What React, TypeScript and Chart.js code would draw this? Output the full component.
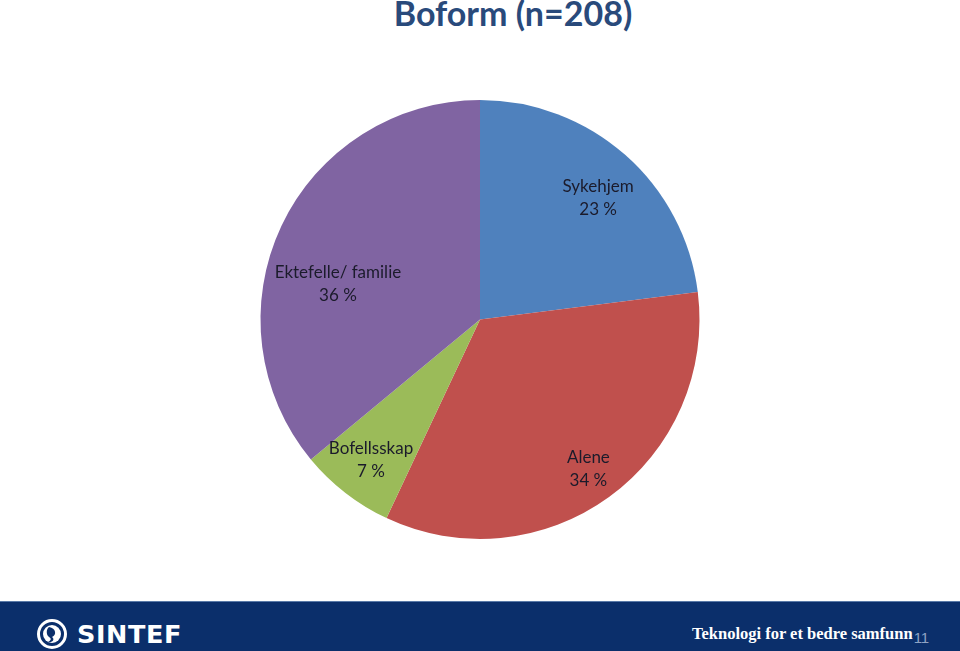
import React, { useEffect, useRef } from "react";
import { Chart, registerables } from "chart.js";

Chart.register(...registerables);

const categories = ["Sykehjem", "Alene", "Bofellsskap", "Ektefelle/ familie"];
const percentages = [23, 34, 7, 36];
const sliceColors = ["#4F81BD", "#C0504D", "#9BBB59", "#8064A2"];
// label placement: [radius fraction, angle offset in degrees]
const labelPlacement: [number, number][] = [
  [0.772, 2.8],
  [0.84, 0],
  [0.81, 0],
  [0.667, -11.2],
];

const labelPlugin = {
  id: "sliceLabels",
  afterDatasetsDraw(chart: any) {
    const ctx = chart.ctx;
    const meta = chart.getDatasetMeta(0);
    ctx.save();
    ctx.font = "17px Lato, 'Open Sans', sans-serif";
    ctx.fillStyle = "#1b1b2b";
    ctx.textAlign = "center";
    ctx.textBaseline = "middle";
    meta.data.forEach((arc: any, i: number) => {
      const { x, y, startAngle, endAngle, outerRadius } = arc.getProps(
        ["x", "y", "startAngle", "endAngle", "outerRadius"],
        true
      );
      const [rf, off] = labelPlacement[i];
      const mid = (startAngle + endAngle) / 2 + (off * Math.PI) / 180;
      const r = outerRadius * rf;
      const cx = x + Math.cos(mid) * r;
      const cy = y + Math.sin(mid) * r;
      ctx.fillText(categories[i], cx, cy - 11.5);
      ctx.fillText(percentages[i] + " %", cx, cy + 11.5);
    });
    ctx.restore();
  },
};

function PieChart() {
  const ref = useRef<HTMLCanvasElement | null>(null);
  useEffect(() => {
    if (!ref.current) return;
    const chart = new Chart(ref.current, {
      type: "pie",
      data: {
        labels: categories,
        datasets: [
          {
            data: percentages,
            backgroundColor: sliceColors,
            borderWidth: 0,
          },
        ],
      },
      options: {
        responsive: false,
        animation: false,
        layout: { padding: { top: 100, bottom: 62, left: 0, right: 0 } },
        plugins: {
          legend: { display: false },
          tooltip: { enabled: false },
          title: { display: false },
        },
      },
      plugins: [labelPlugin],
    });
    return () => chart.destroy();
  }, []);
  return (
    <canvas
      ref={ref}
      width={960}
      height={601}
      style={{ position: "absolute", left: 0, top: 0, width: 960, height: 601 }}
    />
  );
}

function Logo() {
  return (
    <svg width={32} height={32} viewBox="0 0 32 32" style={{ position: "absolute", left: 36, top: 618 }}>
      <circle cx={16} cy={16} r={13.5} fill="none" stroke="#fff" strokeWidth={3} />
      <circle cx={16} cy={16} r={9} fill="#fff" />
      <path d="M13 9 C20 10, 21 17, 16 19 C19 21, 17 25, 12 24 C16 22, 15 20, 13 19 C10 17, 10 11, 13 9 Z" fill="#0B2F6B" />
    </svg>
  );
}

export default function App() {
  return (
    <div
      style={{
        position: "absolute",
        left: 0,
        top: 0,
        width: 960,
        height: 651,
        overflow: "hidden",
        background: "#fff",
      }}
    >
      <div
        style={{
          position: "absolute",
          left: 313,
          width: 400,
          top: -7,
          textAlign: "center",
          fontFamily: "Lato, 'Open Sans', sans-serif",
          fontWeight: 700,
          fontSize: 34,
          color: "#294A7B",
          lineHeight: "40px",
        }}
      >
        Boform (n=208)
      </div>
      <PieChart />
      <div
        style={{
          position: "absolute",
          left: 0,
          top: 601,
          width: 960,
          height: 50,
          background: "#0B2F6B",
          borderTop: "1px solid #5a7aa8",
          boxSizing: "border-box",
        }}
      />
      <Logo />
      <div
        style={{
          position: "absolute",
          left: 77,
          top: 619,
          fontFamily: "'DejaVu Sans', sans-serif",
          fontWeight: 700,
          fontSize: 25.5,
          lineHeight: "30px",
          color: "#fff",
          letterSpacing: 0.6,
        }}
      >
        SINTEF
      </div>
      <div
        style={{
          position: "absolute",
          left: 692,
          top: 621,
          fontFamily: "'Liberation Serif', serif",
          fontWeight: 700,
          fontSize: 16.5,
          lineHeight: "26px",
          color: "#fff",
          whiteSpace: "nowrap",
        }}
      >
        Teknologi for et bedre samfunn
        <span style={{ fontFamily: "'Liberation Sans', sans-serif", fontWeight: 400, fontSize: 15, color: "#8fa3c4", marginLeft: 1, verticalAlign: -4 }}>11</span>
      </div>
    </div>
  );
}
